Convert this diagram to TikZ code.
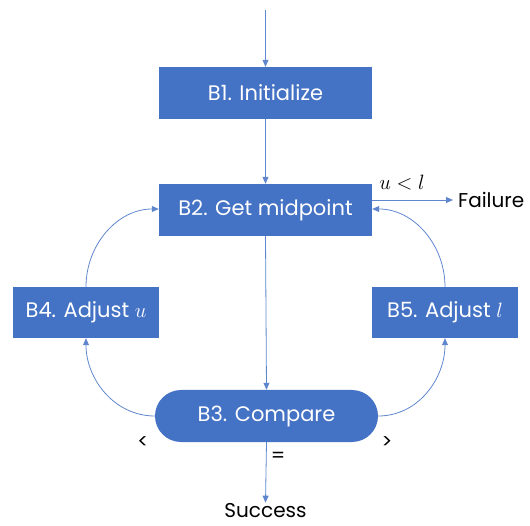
\documentclass[tikz,border=0pt]{standalone}
\usepackage{fontspec}
\setmainfont{Poppins}
\usetikzlibrary{arrows.meta}
\definecolor{boxblue}{HTML}{4472C4}

\begin{document}
\begin{tikzpicture}[x=1pt,y=-1pt,
	block/.style={fill=boxblue,text=white,font=\fontsize{21}{24}\selectfont,minimum height=52pt,inner sep=0pt},
	flow/.style={-{Triangle[length=7pt,width=6pt]},boxblue!85,line width=0.8pt},
	lbl/.style={font=\fontsize{20}{24}\selectfont,inner sep=0pt}]
	\path[use as bounding box] (0,0) rectangle (530,526);

	\node[block,minimum width=213pt] (b1) at (265.5,93) {B1. Initialize};
	\node[block,minimum width=213pt] (b2) at (265.5,210) {B2. Get midpoint};
	\node[block,minimum width=146pt,minimum height=51pt] (b4) at (86,312.5) {B4. Adjust $u$};
	\node[block,minimum width=146pt,minimum height=51pt] (b5) at (445,312.5) {B5. Adjust $l$};
	\node[block,minimum width=223pt,rounded corners=26pt] (b3) at (266.5,416) {B3. Compare};

	\coordinate (start) at (265.5,10);
	\node[lbl,anchor=west,inner xsep=5pt] (fail) at (453,200) {Failure};
	\node[lbl,anchor=base] (succ) at (265.5,517) {Success};

	\draw[flow] (start) -- (b1.north);
	\draw[flow] (b1.south) -- (b2.north);
	\draw[flow] (b2.south) -- (b3.north);
	\draw[flow] (b2.east |- fail.west) -- (fail.west);
	\draw[flow] (b3.south) -- (succ.north);

	\draw[flow] (b3.west) to[out=180,in=-90] (b4.south);
	\draw[flow] (b4.north) to[out=90,in=180] ([yshift=1pt]b2.west);
	\draw[flow] (b3.east) to[out=0,in=-90] (b5.south);
	\draw[flow] (b5.north) to[out=90,in=0] ([yshift=1pt]b2.east);

	\node[lbl] (lt) at (402,183) {$u<l$};
	\node[lbl] (less) at (143,443) {<};
	\node[lbl] (more) at (387,443) {>};
	\node[lbl] (eq) at (278,457) {=};
\end{tikzpicture}
\end{document}
